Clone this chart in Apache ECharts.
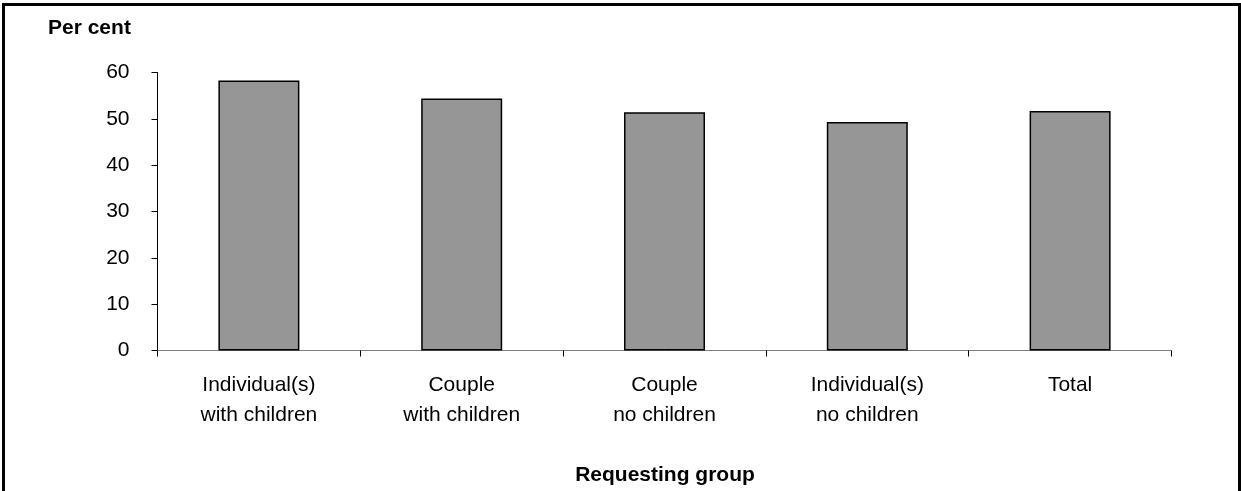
<!DOCTYPE html>
<html>
<head>
<meta charset="utf-8">
<script src="https://cdn.jsdelivr.net/npm/echarts@6/dist/echarts.min.js"></script>
<style>
html,body{margin:0;padding:0;background:#fff;}
#chart{width:1241px;height:491px;}
</style>
</head>
<body>
<div id="chart"></div>
<script>
const categories = ["Individual(s)\nwith children", "Couple\nwith children", "Couple\nno children", "Individual(s)\nno children", "Total"];
const values = [58.3, 54.4, 51.4, 49.3, 51.7];
const yTicks = [0, 10, 20, 30, 40, 50, 60];
const yAxisTitle = "Per cent";
const xAxisTitle = "Requesting group";

const FONT = '"Liberation Sans", Arial, sans-serif';
const chart = echarts.init(document.getElementById('chart'), null, {renderer: 'canvas'});
chart.setOption({
  animation: false,
  backgroundColor: '#ffffff',
  grid: {left: 157.5, right: 69.5, top: 72.5, bottom: 140.5, containLabel: false},
  xAxis: {
    type: 'category',
    data: categories,
    boundaryGap: true,
    axisLine: {show: true, lineStyle: {color: '#808080', width: 1}},
    axisTick: {show: true, length: 6, lineStyle: {color: '#000', width: 1}},
    axisLabel: {fontFamily: FONT, fontSize: 21, color: '#000', lineHeight: 30, margin: 20, interval: 0},
    splitLine: {show: false}
  },
  yAxis: {
    type: 'value',
    min: yTicks[0],
    max: yTicks[yTicks.length - 1],
    interval: 10,
    axisLine: {show: true, lineStyle: {color: '#000', width: 1}},
    axisTick: {show: true, length: 6, lineStyle: {color: '#000', width: 1}},
    axisLabel: {fontFamily: FONT, fontSize: 21, color: '#000', margin: 28},
    splitLine: {show: false}
  },
  series: [{
    type: 'bar',
    data: values,
    barWidth: 81,
    itemStyle: {color: '#969696', borderColor: '#000', borderWidth: 1.5}
  }],
  graphic: [
    {type: 'rect', shape: {x: 3.5, y: 4.5, width: 1236, height: 500}, style: {fill: 'none', stroke: '#000', lineWidth: 3}, silent: true},
    {type: 'text', left: 48, top: 18, style: {text: yAxisTitle, fontFamily: FONT, fontSize: 21, fontWeight: 'bold', fill: '#000'}},
    {type: 'text', x: 665, y: 475, style: {text: xAxisTitle, fontFamily: FONT, fontSize: 21, fontWeight: 'bold', fill: '#000', align: 'center', verticalAlign: 'middle'}}
  ]
});
</script>
</body>
</html>
